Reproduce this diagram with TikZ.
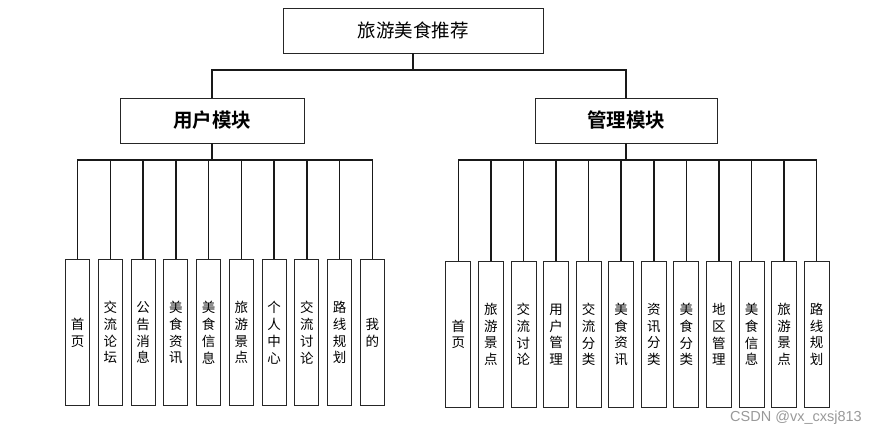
\documentclass[tikz,border=0pt]{standalone}
\usepackage{fontspec}
\newfontfamily\cjk{Noto Sans CJK SC}[BoldFont={Noto Sans CJK SC Bold}]
\setsansfont{Liberation Sans}
\begin{document}
\begin{tikzpicture}[x=1pt,y=-1pt,
  box/.style={draw=black!85,line width=0.9pt,fill=white,inner sep=0pt},
  topbox/.style={box,minimum width=260pt,minimum height=45pt,font={\cjk\fontsize{18.5}{22}\selectfont}},
  modbox/.style={box,minimum height=45pt,font={\cjk\bfseries\fontsize{19.5}{22}\selectfont}},
  leaf/.style={box,minimum width=24pt,minimum height=146pt,align=center,font={\cjk\fontsize{13.5}{16.7}\selectfont}},
  conn/.style={draw=black!90,line width=1.5pt},
  wm/.style={text=black!40,font={\sffamily\fontsize{14.5}{16}\selectfont},inner sep=0pt}]
\useasboundingbox (0,0) rectangle (883,436);
\node[topbox] (top) at (413,30.5) {旅游美食推荐};
\node[modbox,minimum width=184pt] (u) at (212,120.5) {用户模块};
\node[modbox,minimum width=182pt] (a) at (626,120.5) {管理模块};
\coordinate (tbus) at (0,70);
\coordinate (bus) at (0,160);
\draw[conn] (top.south) -- (top.south |- tbus) -| (u.north);
\draw[conn] (top.south) -- (top.south |- tbus) -| (a.north);
% user leaves
\foreach \t [count=\i] in {首\\页,交\\流\\论\\坛,公\\告\\消\\息,美\\食\\资\\讯,美\\食\\信\\息,旅\\游\\景\\点,个\\人\\中\\心,交\\流\\讨\\论,路\\线\\规\\划,我\\的}{
  \node[leaf] (ul\i) at ({77.7+32.73*(\i-1)},332.7) {\t};
  \draw[conn] (u.south) -- (u.south |- bus) -| (ul\i.north);
}
% admin leaves
\foreach \t [count=\i] in {首\\页,旅\\游\\景\\点,交\\流\\讨\\论,用\\户\\管\\理,交\\流\\分\\类,美\\食\\资\\讯,资\\讯\\分\\类,美\\食\\分\\类,地\\区\\管\\理,美\\食\\信\\息,旅\\游\\景\\点,路\\线\\规\\划}{
  \node[leaf,minimum width=25pt] (al\i) at ({458.3+32.58*(\i-1)},334.5) {\t};
  \draw[conn] (a.south) -- (a.south |- bus) -| (al\i.north);
}
\node[wm,anchor=west] (w) at (730,418) {CSDN @vx\_cxsj813};
\end{tikzpicture}
\end{document}
